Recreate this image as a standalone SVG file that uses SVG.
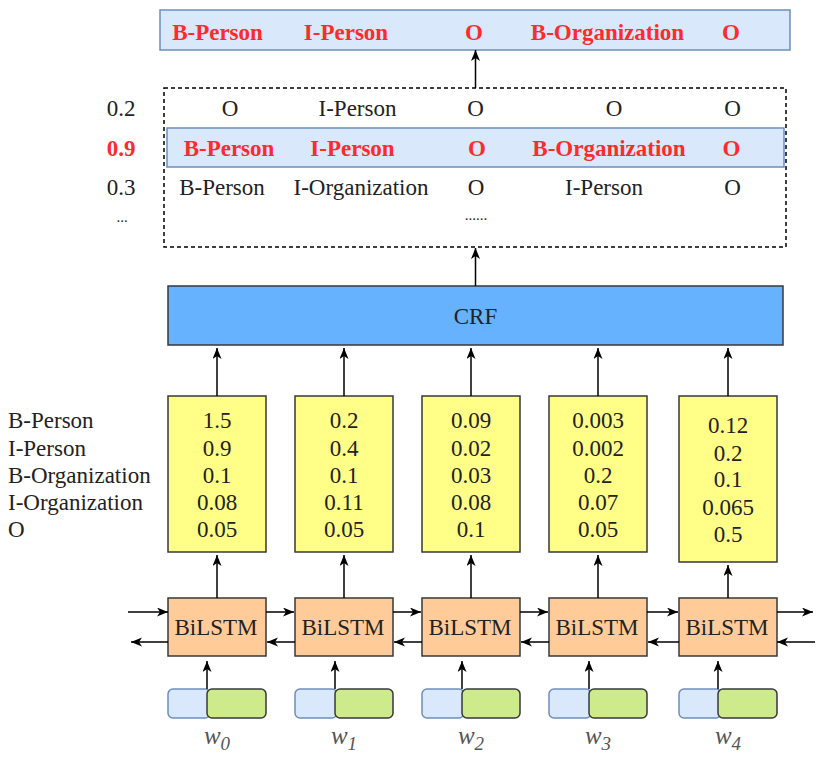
<svg xmlns="http://www.w3.org/2000/svg" width="829" height="762" viewBox="0 0 829 762">
<defs>
<marker id="arr" markerUnits="userSpaceOnUse" markerWidth="12" markerHeight="10" refX="11" refY="4.5" orient="auto">
<path d="M0,0 L11,4.5 L0,9 L3,4.5 z" fill="#000"/>
</marker>
<style>
text{font-family:"Liberation Serif","Times New Roman",serif;font-size:23px;fill:#222;}
.c{text-anchor:middle;}
.red{fill:#ff2b2b;font-weight:bold;}
.hl{fill:#dae8fc;stroke:#6c8ebf;stroke-width:1.5;}
.crf{fill:#66b2ff;stroke:#36393d;stroke-width:1.5;}
.yel{fill:#ffff88;stroke:#36393d;stroke-width:1.5;}
.lstm{fill:#ffcc99;stroke:#36393d;stroke-width:1.5;}
.eb{fill:#dae8fc;stroke:#6c8ebf;stroke-width:1.5;}
.eg{fill:#cdeb8b;stroke:#36393d;stroke-width:1.5;}
.dash{fill:none;stroke:#000;stroke-width:1.5;stroke-dasharray:4 3;}
.ln{stroke:#000;stroke-width:1.5;fill:none;marker-end:url(#arr);}
.w{font-style:italic;fill:#555;font-size:25px;}
.sub{font-size:19px;}
</style>
</defs>
<rect width="829" height="762" fill="#fff"/>

<g id="result">
<rect class="hl" x="160" y="10" width="630" height="40"/>
<text class="c red" x="217.5" y="40">B-Person</text>
<text class="c red" x="346" y="40">I-Person</text>
<text class="c red" x="474" y="40">O</text>
<text class="c red" x="607.5" y="40">B-Organization</text>
<text class="c red" x="731" y="40">O</text>
</g>

<g id="candidates">
<rect class="dash" x="164" y="88" width="622" height="159"/>
<text class="c" x="121" y="116">0.2</text>
<text class="c" x="230" y="116">O</text>
<text class="c" x="357.5" y="116">I-Person</text>
<text class="c" x="475.5" y="116">O</text>
<text class="c" x="614" y="116">O</text>
<text class="c" x="732.5" y="116">O</text>
<rect class="hl" x="167" y="128" width="617" height="39"/>
<text class="c red" x="121" y="156">0.9</text>
<text class="c red" x="229" y="156">B-Person</text>
<text class="c red" x="352.5" y="156">I-Person</text>
<text class="c red" x="477" y="156">O</text>
<text class="c red" x="609" y="156">B-Organization</text>
<text class="c red" x="731.5" y="156">O</text>
<text class="c" x="121" y="195">0.3</text>
<text class="c" x="222" y="195">B-Person</text>
<text class="c" x="361" y="195">I-Organization</text>
<text class="c" x="476" y="195">O</text>
<text class="c" x="604" y="195">I-Person</text>
<text class="c" x="732.5" y="195">O</text>
<text class="c" x="122" y="222" style="font-size:15px">...</text>
<text class="c" x="476" y="220" style="font-size:15px">......</text>
</g>

<g id="crf">
<rect class="crf" x="168" y="286" width="615" height="59"/>
<text class="c" x="475.5" y="324">CRF</text>
</g>

<g id="tag-labels">
<text x="8" y="428">B-Person</text>
<text x="8" y="455.5">I-Person</text>
<text x="8" y="483">B-Organization</text>
<text x="8" y="510">I-Organization</text>
<text x="8" y="537">O</text>
</g>

<g id="scores0">
<rect class="yel" x="168" y="396" width="98" height="156"/>
<text class="c" x="217" y="428">1.5</text>
<text class="c" x="217" y="455.5">0.9</text>
<text class="c" x="217" y="483">0.1</text>
<text class="c" x="217" y="510">0.08</text>
<text class="c" x="217" y="537">0.05</text>
</g>
<g id="scores1">
<rect class="yel" x="295" y="396" width="98" height="156"/>
<text class="c" x="344" y="428">0.2</text>
<text class="c" x="344" y="455.5">0.4</text>
<text class="c" x="344" y="483">0.1</text>
<text class="c" x="344" y="510">0.11</text>
<text class="c" x="344" y="537">0.05</text>
</g>
<g id="scores2">
<rect class="yel" x="422" y="396" width="98" height="156"/>
<text class="c" x="471" y="428">0.09</text>
<text class="c" x="471" y="455.5">0.02</text>
<text class="c" x="471" y="483">0.03</text>
<text class="c" x="471" y="510">0.08</text>
<text class="c" x="471" y="537">0.1</text>
</g>
<g id="scores3">
<rect class="yel" x="549" y="396" width="98" height="156"/>
<text class="c" x="598" y="428">0.003</text>
<text class="c" x="598" y="455.5">0.002</text>
<text class="c" x="598" y="483">0.2</text>
<text class="c" x="598" y="510">0.07</text>
<text class="c" x="598" y="537">0.05</text>
</g>
<g id="scores4">
<rect class="yel" x="679" y="396" width="98" height="166"/>
<text class="c" x="728" y="433">0.12</text>
<text class="c" x="728" y="460.5">0.2</text>
<text class="c" x="728" y="487">0.1</text>
<text class="c" x="728" y="514.5">0.065</text>
<text class="c" x="728" y="542">0.5</text>
</g>

<g id="bilstm0"><rect class="lstm" x="168" y="598" width="98" height="58"/><text class="c" x="216" y="635">BiLSTM</text></g>
<g id="bilstm1"><rect class="lstm" x="295" y="598" width="98" height="58"/><text class="c" x="343" y="635">BiLSTM</text></g>
<g id="bilstm2"><rect class="lstm" x="422" y="598" width="98" height="58"/><text class="c" x="470" y="635">BiLSTM</text></g>
<g id="bilstm3"><rect class="lstm" x="549" y="598" width="98" height="58"/><text class="c" x="597" y="635">BiLSTM</text></g>
<g id="bilstm4"><rect class="lstm" x="679" y="598" width="98" height="58"/><text class="c" x="727" y="635">BiLSTM</text></g>

<g id="embed0"><rect class="eb" x="168" y="689" width="42" height="29" rx="5"/><rect class="eg" x="207" y="689" width="59" height="29" rx="5"/><text class="c w" x="217" y="744">w<tspan class="sub" dy="6">0</tspan></text></g>
<g id="embed1"><rect class="eb" x="295" y="689" width="42" height="29" rx="5"/><rect class="eg" x="335" y="689" width="58" height="29" rx="5"/><text class="c w" x="344" y="744">w<tspan class="sub" dy="6">1</tspan></text></g>
<g id="embed2"><rect class="eb" x="422" y="689" width="42" height="29" rx="5"/><rect class="eg" x="462" y="689" width="58" height="29" rx="5"/><text class="c w" x="471" y="744">w<tspan class="sub" dy="6">2</tspan></text></g>
<g id="embed3"><rect class="eb" x="549" y="689" width="42" height="29" rx="5"/><rect class="eg" x="589" y="689" width="58" height="29" rx="5"/><text class="c w" x="598" y="744">w<tspan class="sub" dy="6">3</tspan></text></g>
<g id="embed4"><rect class="eb" x="679" y="689" width="42" height="29" rx="5"/><rect class="eg" x="718" y="689" width="59" height="29" rx="5"/><text class="c w" x="728" y="744">w<tspan class="sub" dy="6">4</tspan></text></g>

<g id="connectors">
<line class="ln" x1="475.5" y1="88" x2="475.5" y2="50"/>
<line class="ln" x1="475.5" y1="286" x2="475.5" y2="248"/>
<line class="ln" x1="217" y1="396" x2="217" y2="348"/>
<line class="ln" x1="344" y1="396" x2="344" y2="348"/>
<line class="ln" x1="471" y1="396" x2="471" y2="348"/>
<line class="ln" x1="598" y1="396" x2="598" y2="348"/>
<line class="ln" x1="728" y1="396" x2="728" y2="348"/>
<line class="ln" x1="217" y1="598" x2="217" y2="555"/>
<line class="ln" x1="344" y1="598" x2="344" y2="555"/>
<line class="ln" x1="471" y1="598" x2="471" y2="555"/>
<line class="ln" x1="598" y1="598" x2="598" y2="555"/>
<line class="ln" x1="728" y1="598" x2="728" y2="565"/>
<line class="ln" x1="207" y1="689" x2="207" y2="661"/>
<line class="ln" x1="335" y1="689" x2="335" y2="661"/>
<line class="ln" x1="462" y1="689" x2="462" y2="661"/>
<line class="ln" x1="589" y1="689" x2="589" y2="661"/>
<line class="ln" x1="718" y1="689" x2="718" y2="661"/>
<line class="ln" x1="128" y1="612" x2="168" y2="612"/>
<line class="ln" x1="266" y1="612" x2="294" y2="612"/>
<line class="ln" x1="393" y1="612" x2="421" y2="612"/>
<line class="ln" x1="520" y1="612" x2="548" y2="612"/>
<line class="ln" x1="647" y1="612" x2="678" y2="612"/>
<line class="ln" x1="777" y1="612" x2="813" y2="612"/>
<line class="ln" x1="168" y1="642" x2="131" y2="642"/>
<line class="ln" x1="295" y1="642" x2="267" y2="642"/>
<line class="ln" x1="422" y1="642" x2="394" y2="642"/>
<line class="ln" x1="549" y1="642" x2="521" y2="642"/>
<line class="ln" x1="679" y1="642" x2="648" y2="642"/>
<line class="ln" x1="815" y1="642" x2="777" y2="642"/>
</g>
</svg>
